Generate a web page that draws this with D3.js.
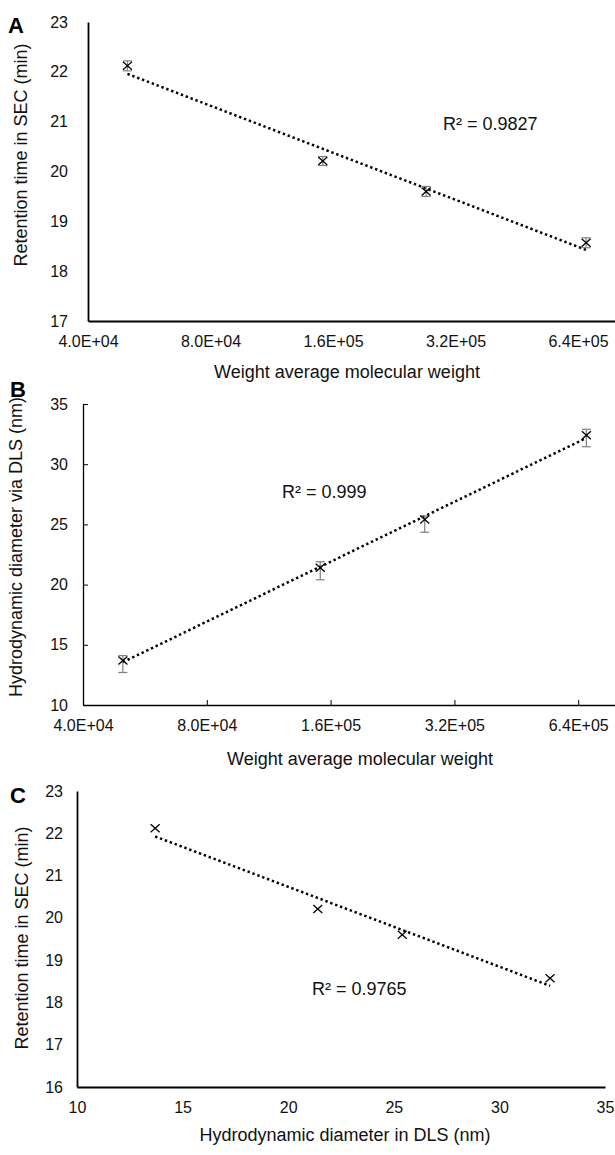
<!DOCTYPE html>
<html>
<head>
<meta charset="utf-8">
<script src="https://cdn.jsdelivr.net/npm/d3@7"></script>
<style>
  body { margin: 0; background: #fff; }
  svg { display: block; font-family: "Liberation Sans", Arial, sans-serif; }
</style>
</head>
<body>
<div id="chart"></div>
<script>
// values
const molWeight = [50000, 151000, 271000, 670000];      // x of A and B
const secTime = [22.12, 20.21, 19.60, 18.57];           // A, C (y)
const secErr = [0.10, 0.09, 0.10, 0.10];
const dlsSize = [13.7, 21.4, 25.4, 32.4];               // B (y), C (x)
const dlsErrUp = [0.4, 0.5, 0.3, 0.5];
const dlsErrDown = [1.0, 1.0, 1.05, 0.95];

const mwTicks = [40000, 80000, 160000, 320000, 640000];
const secTicksA = [17, 18, 19, 20, 21, 22, 23];
const dlsTicks = [10, 15, 20, 25, 30, 35];
const secTicksC = [16, 17, 18, 19, 20, 21, 22, 23];
const dlsTicksX = [10, 15, 20, 25, 30, 35];

const r2Labels = ["R\u00b2 = 0.9827", "R\u00b2 = 0.999", "R\u00b2 = 0.9765"];

const svg = d3.select("#chart").append("svg")
  .attr("width", 615).attr("height", 1155);

// 4.0E+04 style
const fmtE = d => {
  let [m, e] = d.toExponential(1).toUpperCase().split("E");
  let sign = e[0];
  let num = e.slice(1).padStart(2, "0");
  return m + "E" + sign + num;
};

// least squares y = a + b*f(x)
function fit(xs, ys, f) {
  const t = xs.map(f);
  const mt = d3.mean(t), my = d3.mean(ys);
  let sxy = 0, sxx = 0;
  t.forEach((v, i) => { sxy += (v - mt) * (ys[i] - my); sxx += (v - mt) * (v - mt); });
  const b = sxy / sxx;
  return x => my + b * (f(x) - mt);
}

function drawPanel(p) {
  const g = svg.append("g");

  const xAxis = d3.axisBottom(p.x).tickValues(p.xTicks).tickFormat(p.xFmt)
    .tickSizeOuter(0).tickSizeInner(p.ticks ? -5 : 0).tickPadding(15);
  const yAxis = d3.axisLeft(p.y).tickValues(p.yTicks).tickFormat(d3.format("d"))
    .tickSizeOuter(0).tickSizeInner(p.ticks ? -5 : 0).tickPadding(p.yPad);

  const gx = g.append("g").attr("transform", `translate(0,${p.y.range()[0]})`).call(xAxis);
  const gy = g.append("g").attr("transform", `translate(${p.x.range()[0]},0)`).call(yAxis);

  [gx, gy].forEach(a => {
    a.attr("font-family", null).attr("font-size", null);
    a.select(".domain").attr("stroke", "#000").attr("stroke-width", p.axisW);
    a.selectAll(".tick line").attr("stroke", "#000").attr("stroke-width", 1);
    a.selectAll(".tick text").attr("font-size", 16).attr("fill", "#111");
  });

  // trendline
  const xs = p.xData;
  const line = d3.line().x(d => p.x(d[0])).y(d => p.y(d[1]));
  const x0 = d3.min(xs), x1 = d3.max(xs);
  const pts = d3.range(0, 41).map(i => {
    const xv = p.log ? x0 * Math.pow(x1 / x0, i / 40) : x0 + (x1 - x0) * i / 40;
    return [xv, p.trend(xv)];
  });
  g.append("path").attr("d", line(pts))
    .attr("fill", "none").attr("stroke", "#000")
    .attr("stroke-width", 2.5).attr("stroke-dasharray", "2.4,2.8");

  // error bars
  if (p.errUp) {
    const eb = g.append("g").attr("stroke", "#808080").attr("stroke-width", 1.2);
    xs.forEach((xv, i) => {
      const cx = p.x(xv);
      const yt = p.y(p.yData[i] + p.errUp[i]);
      const yb = p.y(p.yData[i] - p.errDown[i]);
      eb.append("line").attr("x1", cx).attr("x2", cx).attr("y1", yt).attr("y2", yb);
      eb.append("line").attr("x1", cx - 4.5).attr("x2", cx + 4.5).attr("y1", yt).attr("y2", yt);
      eb.append("line").attr("x1", cx - 4.5).attr("x2", cx + 4.5).attr("y1", yb).attr("y2", yb);
    });
  }

  // x markers
  const mk = g.append("g").attr("stroke", "#000").attr("stroke-width", 1.3);
  xs.forEach((xv, i) => {
    const cx = p.x(xv), cy = p.y(p.yData[i]);
    mk.append("line").attr("x1", cx - 4.5).attr("x2", cx + 4.5).attr("y1", cy - 4).attr("y2", cy + 4);
    mk.append("line").attr("x1", cx - 4.5).attr("x2", cx + 4.5).attr("y1", cy + 4).attr("y2", cy - 4);
  });

  // labels
  g.append("text").attr("x", p.xTitle[0]).attr("y", p.xTitle[1])
    .attr("text-anchor", "middle").attr("font-size", 18).attr("fill", "#111").text(p.xLabel);
  g.append("text").attr("transform", `translate(${p.yTitle[0]},${p.yTitle[1]}) rotate(-90)`)
    .attr("text-anchor", "middle").attr("font-size", 18).attr("fill", "#111").text(p.yLabel);
  g.append("text").attr("x", p.r2Pos[0]).attr("y", p.r2Pos[1])
    .attr("font-size", 18).attr("fill", "#111").text(p.r2);
  g.append("text").attr("x", p.letterPos[0]).attr("y", p.letterPos[1])
    .attr("font-size", 22).attr("font-weight", "bold").attr("fill", "#000").text(p.letter);
}

// A
const xA = d3.scaleLog().base(2).domain([40000, 1280000]).range([88, 700.5]);
const yA = d3.scaleLinear().domain([17, 23]).range([321, 22]);
drawPanel({
  x: xA, y: yA, xTicks: mwTicks, yTicks: secTicksA, xFmt: fmtE, yPad: 20, ticks: false, axisW: 1.8,
  xData: molWeight, yData: secTime, errUp: secErr, errDown: secErr, log: true,
  trend: fit(molWeight, secTime, Math.log),
  xLabel: "Weight average molecular weight", yLabel: "Retention time in SEC (min)",
  xTitle: [347, 378], yTitle: [27, 155], r2: r2Labels[0], r2Pos: [443, 130],
  letter: "A", letterPos: [8, 33]
});

// B
const xB = d3.scaleLog().base(2).domain([40000, 1280000]).range([83, 702]);
const yB = d3.scaleLinear().domain([10, 35]).range([705, 404]);
drawPanel({
  x: xB, y: yB, xTicks: mwTicks, yTicks: dlsTicks, xFmt: fmtE, yPad: 15, ticks: true, axisW: 1.3,
  xData: molWeight, yData: dlsSize, errUp: dlsErrUp, errDown: dlsErrDown, log: true,
  trend: fit(molWeight, dlsSize, Math.log),
  xLabel: "Weight average molecular weight", yLabel: "Hydrodynamic diameter via DLS (nm)",
  xTitle: [360, 765], yTitle: [22, 547], r2: r2Labels[1], r2Pos: [282, 498],
  letter: "B", letterPos: [10, 397]
});

// C
const xC = d3.scaleLinear().domain([10, 35]).range([77, 605]);
const yC = d3.scaleLinear().domain([16, 23]).range([1087, 791]);
drawPanel({
  x: xC, y: yC, xTicks: dlsTicksX, yTicks: secTicksC, xFmt: d3.format("d"), yPad: 14, ticks: false, axisW: 1.8,
  xData: dlsSize, yData: secTime, errUp: null, log: false,
  trend: fit(dlsSize, secTime, d => d),
  xLabel: "Hydrodynamic diameter in DLS (nm)", yLabel: "Retention time in SEC (min)",
  xTitle: [345, 1141], yTitle: [28, 938], r2: r2Labels[2], r2Pos: [312, 995],
  letter: "C", letterPos: [10, 803]
});
</script>
</body>
</html>
